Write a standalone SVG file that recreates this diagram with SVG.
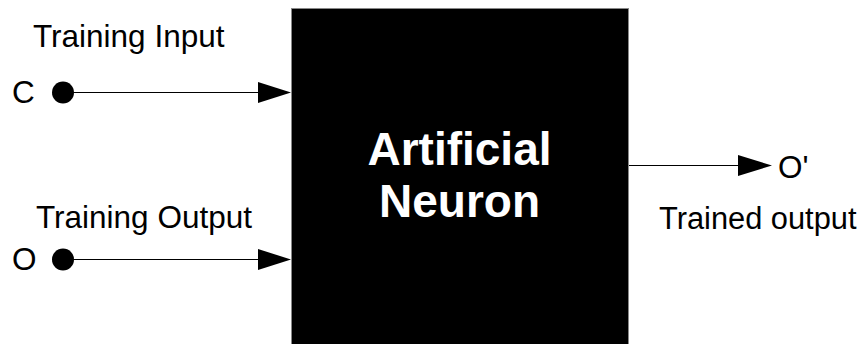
<svg xmlns="http://www.w3.org/2000/svg" width="867" height="344" viewBox="0 0 867 344">
<style>
.lbl{font-family:"Liberation Sans",Arial,sans-serif;font-size:31.5px;fill:#000}
.title{font-family:"Liberation Sans",Arial,sans-serif;font-size:46px;font-weight:bold;fill:#fff}
.wire{stroke:#000;stroke-width:1.2;fill:none}
.dot{fill:#000}
.head{fill:#000}
</style>
<rect width="867" height="344" fill="#fff"/>
<g id="neuron">
<rect x="291.5" y="8.5" width="337" height="345" fill="#000" stroke="#888" stroke-width="1"/>
<text class="title" x="459.5" y="165" text-anchor="middle">Artificial</text>
<text class="title" x="459.5" y="217" text-anchor="middle">Neuron</text>
</g>
<g id="input-c">
<text class="lbl" x="33" y="47">Training Input</text>
<text class="lbl" x="12" y="103">C</text>
<circle class="dot" cx="63" cy="92.5" r="11"/>
</g>
<g id="input-o">
<text class="lbl" x="36" y="228">Training Output</text>
<text class="lbl" x="12" y="270">O</text>
<circle class="dot" cx="63" cy="259.5" r="11"/>
</g>
<g id="output">
<text class="lbl" x="778" y="178">O'</text>
<text class="lbl" x="659" y="229" style="font-size:30.8px">Trained output</text>
</g>
<g id="connectors">
<line class="wire" x1="63" y1="92.5" x2="260" y2="92.5"/>
<polygon class="head" points="258,82 291,92.5 258,103"/>
<line class="wire" x1="63" y1="259.5" x2="260" y2="259.5"/>
<polygon class="head" points="258,249 291,259.5 258,270"/>
<line class="wire" x1="629" y1="165.5" x2="740" y2="165.5"/>
<polygon class="head" points="738,155 772,165.5 738,176"/>
</g>
</svg>
